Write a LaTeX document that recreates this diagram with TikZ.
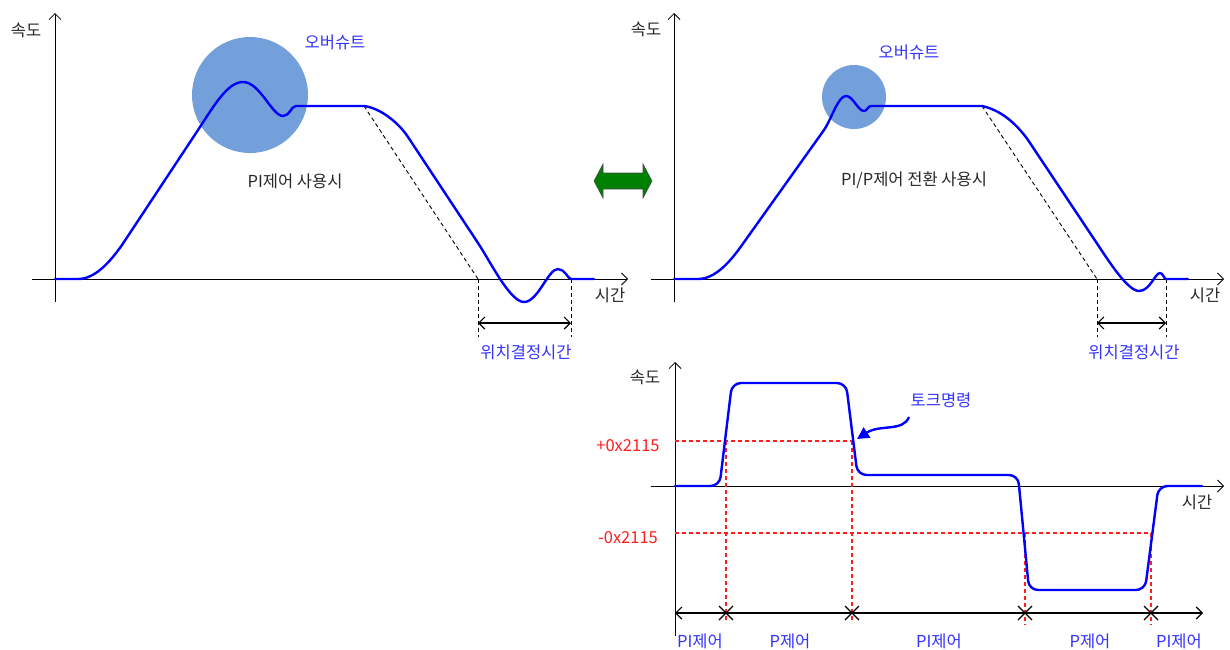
\documentclass[tikz,border=0pt]{standalone}
\usepackage{fontspec}
\setmainfont{Noto Sans CJK KR}
\usepackage{tikz}
\usetikzlibrary{arrows.meta, positioning, calc}
\definecolor{SpeedBlue}{RGB}{0,0,255}
\definecolor{LabelBlue}{RGB}{51,51,255}
\definecolor{LimitRed}{RGB}{255,30,30}
\definecolor{OvershootFill}{HTML}{73A0DA}
\definecolor{TextGrey}{RGB}{40,40,40}
\definecolor{SwapGreen}{RGB}{0,128,0}

\begin{document}
\begin{tikzpicture}[x=1pt, y=-1pt,
  axis/.style={line width=0.8pt, -{Straight Barb[length=6pt,width=12pt]}},
  speed/.style={SpeedBlue, line width=2.4pt, line join=round, line cap=round},
  guide/.style={line width=0.9pt, dash pattern=on 4pt off 3pt},
  limit/.style={LimitRed, line width=1.1pt, dash pattern=on 4pt off 3pt},
  span/.style={line width=1.2pt,
    {Straight Barb[length=6pt,width=12pt]}-{Straight Barb[length=6pt,width=12pt]}},
  lbl/.style={font=\fontsize{16.5}{19}\selectfont, inner sep=0pt}]
  \useasboundingbox (0,0) rectangle (1230,649);

  % PI control only
  \fill[OvershootFill] (250,95) circle (58pt);
  \draw[axis] (55,302) -- (55,13);
  \draw[axis] (32,279) -- (628,279);
  \node[lbl, TextGrey] (lspeed) at (26,30) {속도};
  \node[lbl, TextGrey] (ltime) at (610,295) {시간};
  \node[lbl, LabelBlue] (lover) at (335,42) {오버슈트};
  \node[lbl, TextGrey] (lcase) at (295,181) {PI제어 사용시};
  \coordinate (lknee) at (364,106);
  \coordinate (lstart) at (478,279);
  \coordinate (lend) at (571,279);
  \draw[guide] (lknee) -- (lstart);
  \draw[guide] (lstart) -- ++(0,58);
  \draw[guide] (lend) -- ++(0,58);
  \draw[span] ($(lstart)+(0,44)$) -- ($(lend)+(0,44)$);
  \node[lbl, LabelBlue] (lsettle) at (526,352) {위치결정시간};
  \draw[speed] (55,279) -- (78,279) .. controls (95,279) and (110,262) .. (122,245)
    -- (200,127) .. controls (215,104) and (228,82) .. (243,82)
    .. controls (260,82) and (272,116) .. (283,116)
    .. controls (290,116) and (291,106) .. (296,106) -- (lknee)
    .. controls (380,108) and (398,122) .. (408,137) -- (478,243)
    .. controls (490,261) and (510,302) .. (524,302)
    .. controls (538,302) and (548,269) .. (558,269)
    .. controls (565,269) and (568,279) .. (lend) -- (594,279);

  % switch between the two cases
  \draw[fill=SwapGreen, draw=black!70, line width=0.6pt]
    (594,181) -- (603,164) -- (603,173) -- (643,173) -- (643,164) -- (652,181)
    -- (643,198) -- (643,189) -- (603,189) -- (603,198) -- cycle;

  % PI/P switching
  \fill[OvershootFill] (854,97) circle (32pt);
  \draw[axis] (674,302) -- (674,13);
  \draw[axis] (651,279) -- (1224,279);
  \node[lbl, TextGrey] (rspeed) at (646,29) {속도};
  \node[lbl, TextGrey] (rtime) at (1205,295) {시간};
  \node[lbl, LabelBlue] (rover) at (909,52) {오버슈트};
  \node[lbl, TextGrey] (rcase) at (914,180) {PI/P제어 전환 사용시};
  \coordinate (rknee) at (982,106);
  \coordinate (rstart) at (1097,279);
  \coordinate (rend) at (1166,279);
  \draw[guide] (rknee) -- (rstart);
  \draw[guide] (rstart) -- ++(0,58);
  \draw[guide] (rend) -- ++(0,58);
  \draw[span] ($(rstart)+(0,44)$) -- ($(rend)+(0,44)$);
  \node[lbl, LabelBlue] (rsettle) at (1134,352) {위치결정시간};
  \draw[speed] (674,279) -- (698,279) .. controls (715,279) and (730,262) .. (742,245)
    -- (824,130) .. controls (832,118) and (838,96) .. (846,96)
    .. controls (853,96) and (858,111) .. (864,111)
    .. controls (867,111) and (868,106) .. (871,106) -- (rknee)
    .. controls (1000,110) and (1015,122) .. (1028,140) -- (1098,245)
    .. controls (1110,263) and (1128,291) .. (1139,291)
    .. controls (1150,291) and (1155,273) .. (1160,273)
    .. controls (1163,273) and (1164,279) .. (rend) -- (1188,279);

  % torque command
  \draw[axis] (675,636) -- (675,362);
  \draw[axis] (651,486) -- (1224,486);
  \node[lbl, TextGrey] (tspeed) at (645,377) {속도};
  \node[lbl, TextGrey] (ttime) at (1197,502) {시간};
  \node[lbl, LimitRed] (tplus) at (628,446) {+0x2115};
  \node[lbl, LimitRed] (tminus) at (628,538) {-0x2115};
  \draw[limit] (675,441) -- (853,441);
  \draw[limit] (675,533) -- (1152,533);
  \draw[limit] (726,441) -- (726,623);
  \draw[limit] (852,441) -- (852,623);
  \draw[limit] (1025,533) -- (1025,625);
  \draw[limit] (1151,533) -- (1151,625);
  \draw[speed, rounded corners=9pt] (675,486) -- (719.5,486) -- (732,383)
    -- (846,383) -- (857.5,475) -- (1018,475) -- (1029,590) -- (1145,590)
    -- (1158.5,486) -- (1202,486);
  \node[lbl, LabelBlue] (torque) at (941,400) {토크명령};
  \coordinate (ttip) at (857,439);
  \draw[SpeedBlue, line width=2.4pt, -{Triangle[length=12pt,width=12pt]}]
    (909,417) .. controls (903,432) and (880,424) .. (ttip);

  % control modes
  \draw[span] (675,613) -- (1203,613);
  \foreach \x in {726,852,1025,1151}
    \draw[line width=1.2pt] (\x-7,606) -- (\x+7,620) (\x-7,620) -- (\x+7,606);
  \node[lbl, LabelBlue] (mode1) at (700,641) {PI제어};
  \node[lbl, LabelBlue] (mode2) at (790,641) {P제어};
  \node[lbl, LabelBlue] (mode3) at (939,641) {PI제어};
  \node[lbl, LabelBlue] (mode4) at (1090,641) {P제어};
  \node[lbl, LabelBlue] (mode5) at (1179,641) {PI제어};
\end{tikzpicture}
\end{document}
